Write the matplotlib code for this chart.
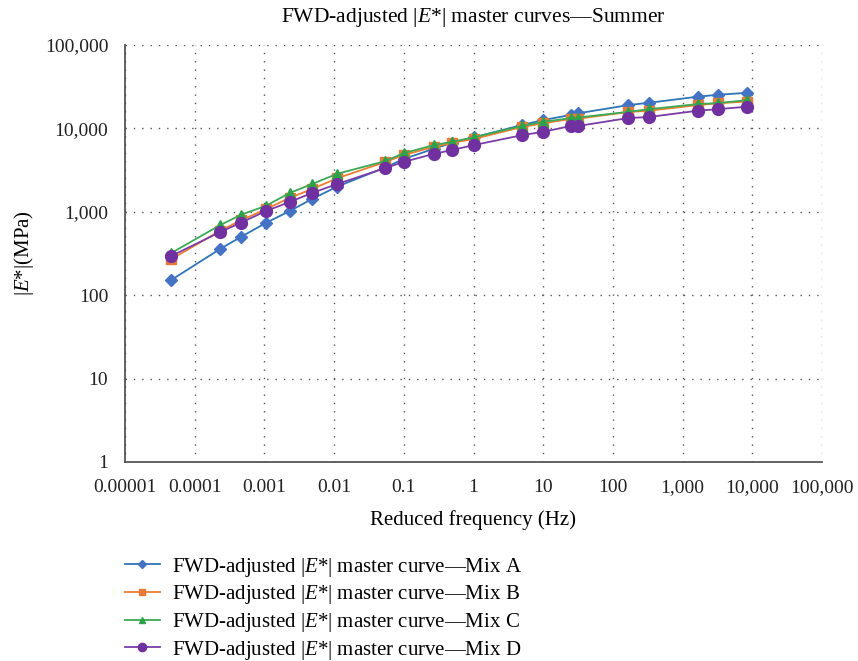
import numpy as np
import matplotlib
matplotlib.use('Agg')
from matplotlib import pyplot as plt
from matplotlib.ticker import FixedLocator

plt.rcParams['font.family'] = ['Liberation Serif', 'DejaVu Serif']
plt.rcParams['mathtext.fontset'] = 'custom'
plt.rcParams['mathtext.rm'] = 'Liberation Serif'
plt.rcParams['mathtext.it'] = 'Liberation Serif:italic'

# reduced frequency (Hz)
freq = [4.6e-5, 2.3e-4, 4.6e-4, 1.05e-3, 2.3e-3, 4.8e-3, 0.011,
        0.054, 0.1, 0.27, 0.49, 1.0, 5.0, 10, 25, 32,
        165, 330, 1650, 3200, 8300]

# |E*| (MPa)
mix_a = [152, 357, 500, 735, 1020, 1420, 2000,
         3400, 4300, 5700, 6700, 7800, 11000, 12600, 14500, 15200,
         19000, 20300, 24000, 25300, 26700]
mix_b = [270, 590, 790, 1075, 1470, 1870, 2520,
         3950, 4800, 6000, 6700, 7450, 10400, 11500, 13000, 13100,
         15700, 16300, 19000, 20000, 21000]
mix_c = [320, 690, 920, 1180, 1680, 2150, 2850,
         4050, 5050, 6300, 6900, 7800, 10700, 12000, 13300, 13500,
         15800, 17000, 19600, 20100, 21800]
mix_d = [295, 570, 740, 1020, 1310, 1680, 2150,
         3340, 3970, 4950, 5500, 6300, 8300, 9100, 10700, 10700,
         13300, 13700, 16300, 17000, 18200]

labels = ['Mix A', 'Mix B', 'Mix C', 'Mix D']
line_colors = ['#2E75B6', '#ED7D31', '#3BAA55', '#7A3DA8']
marker_colors = ['#4472C4', '#E8793A', '#2EA24A', '#7030A0']
markers = ['D', 's', '^', 'o']
msizes = [6, 7, 7, 8.5]

fig = plt.figure(figsize=(8.58, 6.61), dpi=100)
ax = fig.add_axes([125/858, 1-462/661, (822-125)/858, (462-45)/661])

for ys, lab, lc, mc, mk, ms in zip([mix_a, mix_b, mix_c, mix_d], labels,
                                   line_colors, marker_colors, markers, msizes):
    ax.plot(freq, ys, color=lc, lw=1.3, marker=mk, ms=ms, mfc=mc, mec=mc,
            label='FWD-adjusted |$E$*| master curve\u2014' + lab)

ax.set_xscale('log')
ax.set_yscale('log')
ax.set_xlim(1e-5, 1e5)
ax.set_ylim(1, 1e5)

xt = [10.0**k for k in range(-5, 6)]
yt = [10.0**k for k in range(0, 6)]
xt_lab = ['0.00001', '0.0001', '0.001', '0.01', '0.1', '1', '10', '100',
          '1,000', '10,000', '100,000']
yt_lab = ['1', '10', '100', '1,000', '10,000', '100,000']
ax.xaxis.set_major_locator(FixedLocator(xt))
ax.yaxis.set_major_locator(FixedLocator(yt))
ax.xaxis.set_minor_locator(FixedLocator([]))
ax.yaxis.set_minor_locator(FixedLocator([]))
ax.set_xticklabels(xt_lab)
ax.set_yticklabels(yt_lab)
ax.tick_params(length=0, labelsize=14, colors='#222222')
ax.tick_params(axis='x', pad=12.5)
ax.tick_params(axis='y', pad=12)

ax.grid(True, which='major', color='#555555', ls=(0, (1, 5)), lw=1.0)
for s in ['top', 'right']:
    ax.spines[s].set_visible(False)
for s in ['left', 'bottom']:
    ax.spines[s].set_color('#555555')
    ax.spines[s].set_linewidth(1.3)

ax.set_title('FWD-adjusted |$E$*| master curves\u2014Summer', fontsize=15.5, pad=16.5)
ax.set_xlabel('Reduced frequency (Hz)', fontsize=15, labelpad=10)
ax.set_ylabel('|$E$*|(MPa)', fontsize=15, labelpad=6)

h, l = ax.get_legend_handles_labels()
fig.legend(h, l, loc='upper left', bbox_to_anchor=(106/858, 1-537/661),
           frameon=False, fontsize=15, handlelength=1.7, labelspacing=0.22,
           handletextpad=0.58, markerscale=0.7)

plt.savefig('out.png', dpi=100)
